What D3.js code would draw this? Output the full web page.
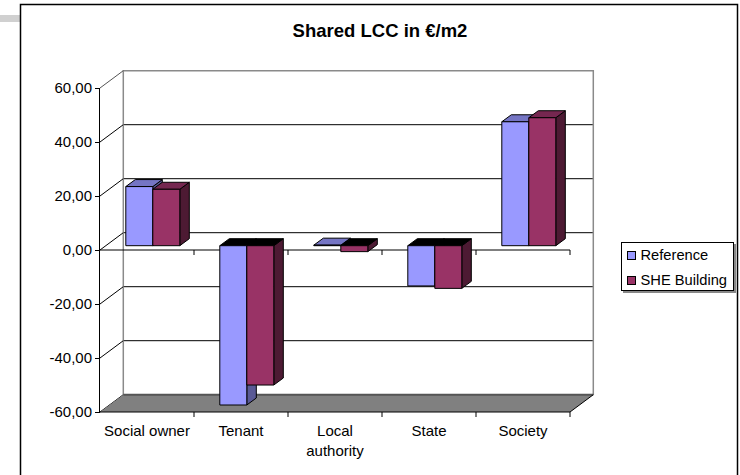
<!DOCTYPE html>
<html><head><meta charset="utf-8">
<script src="https://cdn.jsdelivr.net/npm/d3@7"></script>
<style>body{margin:0;background:#fff}svg{display:block;font-family:Arial,"Liberation Sans",sans-serif}</style>
</head><body>
<svg id="c" width="740" height="475"></svg>
<script>
const categories = ["Social owner", "Tenant", "Local authority", "State", "Society"];
const seriesNames = ["Reference", "SHE Building"];
const referenceValues = [21.9, -59.0, 0.2, -14.9, 45.9];
const sheValues = [20.9, -51.6, -2.2, -15.8, 47.4];
const yTicks = [-60, -40, -20, 0, 20, 40, 60];
const tickLabels = ["-60,00", "-40,00", "-20,00", "0,00", "20,00", "40,00", "60,00"];
const title = "Shared LCC in €/m2";

const colors = {
  "Reference": {front: "#9999FF", top: "#7575C4", side: "#5A5A96"},
  "SHE Building": {front: "#993366", top: "#752750", side: "#4D1A33"}
};

const svg = d3.select("#c");
// page decorations
svg.append("rect").attr("x", 0).attr("y", 15).attr("width", 20).attr("height", 7).attr("fill", "#d0d0d0");
svg.append("rect").attr("x", 20.5).attr("y", 4.5).attr("width", 717).attr("height", 490)
  .attr("fill", "#fff").attr("stroke", "#000").attr("stroke-width", 1.5);

svg.append("text").attr("x", 380).attr("y", 37).attr("text-anchor", "middle")
  .attr("font-weight", "bold").attr("font-size", "18.5px").text(title);

const x = d3.scaleBand().domain(categories).range([100, 570]).padding(0);
const y = d3.scaleLinear().domain([-60, 60]).range([412, 88]);
const DX = 23.3, DY = -17.3;        // wall depth
const FX = 5.8, FY = -4.3;          // bar front plane offset
const BX = 9.5, BY = -7;            // bar depth
const sub = d3.scaleBand().domain(seriesNames).range([0, 54]).padding(0);
const groupOffset = (x.bandwidth() - 54) / 2;

const g = svg.append("g");
const x0 = x.range()[0], x1 = x.range()[1];
const yTop = y(60), yBot = y(-60);

// back wall gridlines
g.selectAll("line.grid").data(yTicks.filter(v => v > -60 && v < 60)).join("line")
  .attr("x1", x0 + DX).attr("x2", x1 + DX)
  .attr("y1", d => y(d) + DY).attr("y2", d => y(d) + DY)
  .attr("stroke", "#000").attr("stroke-width", 1);
// back wall edges (gray)
g.append("path").attr("fill", "none").attr("stroke", "#8a8a8a").attr("stroke-width", 1.5)
  .attr("d", `M${x0 + DX},${yBot + DY}V${yTop + DY}H${x1 + DX}V${yBot + DY}`);
// side wall diagonals
g.selectAll("line.diag").data(yTicks).join("line")
  .attr("x1", x0).attr("x2", x0 + DX)
  .attr("y1", d => y(d)).attr("y2", d => y(d) + DY)
  .attr("stroke", d => d === 60 ? "#555" : "#000").attr("stroke-width", 1);
// floor
g.append("path").attr("fill", "#808080").attr("stroke", "none")
  .attr("d", `M${x0},${yBot}L${x0 + DX},${yBot + DY}L${x1 + DX},${yBot + DY}L${x1},${yBot}Z`);
g.append("line").attr("x1", x0 + DX).attr("x2", x1 + DX).attr("y1", yBot + DY).attr("y2", yBot + DY)
  .attr("stroke", "#555").attr("stroke-width", 2);
g.append("line").attr("x1", x1).attr("x2", x1 + DX).attr("y1", yBot).attr("y2", yBot + DY)
  .attr("stroke", "#000").attr("stroke-width", 1);

// value axis
const yAxis = d3.axisLeft(y).tickValues(yTicks).tickSize(5).tickPadding(3)
  .tickFormat((d, i) => tickLabels[i]);
const ya = g.append("g").attr("transform", `translate(${x0},0)`).call(yAxis);
ya.select(".domain").attr("stroke", "#000").attr("d", `M-0.5,${yTop}V${yBot}`);
ya.selectAll("text").attr("font-size", "15px").attr("fill", "#000").attr("font-family", "Arial, 'Liberation Sans', sans-serif");

// category axis at zero
const xAxisTop = d3.axisBottom(x).tickSize(5).tickFormat("");
const xz = g.append("g").attr("transform", `translate(0,${y(0)})`).call(xAxisTop);
xz.select(".domain").attr("d", `M${x0},0H${x1}`);
xz.selectAll(".tick").remove();
const bounds = categories.map(c => x(c) + x.bandwidth());
g.selectAll("line.zt").data(bounds).join("line")
  .attr("x1", d => d).attr("x2", d => d).attr("y1", y(0)).attr("y2", y(0) + 5).attr("stroke", "#000");
// bottom front edge axis with ticks and labels
g.append("line").attr("x1", x0).attr("x2", x1).attr("y1", yBot).attr("y2", yBot).attr("stroke", "#000").attr("stroke-width", 1.2);
g.selectAll("line.bt").data(bounds).join("line")
  .attr("x1", d => d).attr("x2", d => d).attr("y1", yBot).attr("y2", yBot + 5).attr("stroke", "#000");
const labels = g.selectAll("text.cat").data(categories).join("text")
  .attr("x", d => x(d) + x.bandwidth() / 2).attr("y", 435.5)
  .attr("text-anchor", "middle").attr("font-size", "15px");
labels.each(function (d) {
  const parts = d === "Local authority" ? ["Local", "authority"] : [d];
  d3.select(this).selectAll("tspan").data(parts).join("tspan")
    .attr("x", x(d) + x.bandwidth() / 2).attr("dy", (p, i) => i === 0 ? 0 : 20.5).text(p => p);
});

// bars
const bars = [];
categories.forEach((c, i) => {
  bars.push({cat: c, s: "Reference", v: referenceValues[i]});
  bars.push({cat: c, s: "SHE Building", v: sheValues[i]});
});
const bg = g.append("g").attr("stroke", "#000").attr("stroke-width", 1).attr("stroke-linejoin", "round");
bars.forEach(b => {
  const xl = x(b.cat) + groupOffset + sub(b.s) + FX;
  const xr = xl + sub.bandwidth();
  const t = Math.min(y(b.v), y(0)) + FY;
  const bt = Math.max(y(b.v), y(0)) + FY;
  const col = colors[b.s];
  const gb = bg.append("g");
  gb.append("path").attr("fill", col.side)
    .attr("d", `M${xr},${t}L${xr + BX},${t + BY}L${xr + BX},${bt + BY}L${xr},${bt}Z`);
  gb.append("path").attr("fill", b.v >= 0 ? col.top : "#000")
    .attr("d", `M${xl},${t}L${xl + BX},${t + BY}L${xr + BX},${t + BY}L${xr},${t}Z`);
  gb.append("rect").attr("fill", col.front).attr("x", xl).attr("y", t)
    .attr("width", xr - xl).attr("height", Math.max(0, bt - t));
});

// legend
const lg = svg.append("g");
lg.append("path").attr("fill", "none").attr("stroke", "#888").attr("stroke-width", 2)
  .attr("d", "M735,244V292H623");
lg.append("rect").attr("x", 621.5).attr("y", 242.5).attr("width", 112).attr("height", 48)
  .attr("fill", "#fff").attr("stroke", "#000").attr("stroke-width", 1);
const li = lg.selectAll("g.item").data(seriesNames).join("g")
  .attr("transform", (d, i) => `translate(0,${i * 25})`);
li.append("rect").attr("x", 627.5).attr("y", 251.5).attr("width", 8).attr("height", 8)
  .attr("fill", d => colors[d].front).attr("stroke", "#000");
li.append("text").attr("x", 640.5).attr("y", 260).attr("font-size", "14.7px").text(d => d);
</script>
</body></html>
